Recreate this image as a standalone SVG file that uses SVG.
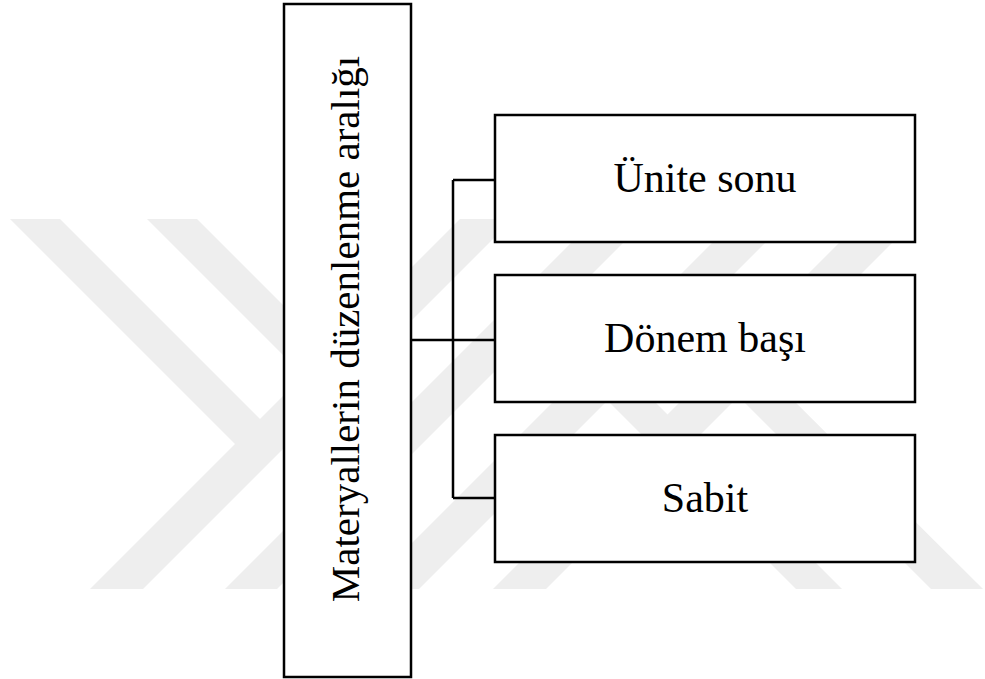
<svg xmlns="http://www.w3.org/2000/svg" width="985" height="679" viewBox="0 0 985 679">
<style>
.wm{fill:#eeeeee;stroke:none}
.box{fill:#ffffff;stroke:#000000;stroke-width:2.5}
.conn{fill:none;stroke:#000000;stroke-width:2.5}
.lbl{font-family:"Liberation Serif","Times New Roman",serif;font-size:42px;fill:#000000;text-anchor:middle}
</style>
<rect x="0" y="0" width="985" height="679" fill="#ffffff"/>
<g id="watermark">
<polygon class="wm" points="10,219 60,219 273.5,432.5 248.5,457.5"/>
<polygon class="wm" points="147,219 197,219 409,431 384,456"/>
<polygon class="wm" points="460,219 513,219 143,589 90,589"/>
<polygon class="wm" points="595,219 647,219 277,589 225,589"/>
<polygon class="wm" points="736,219 789,219 419,589 366,589"/>
<polygon class="wm" points="863,219 916,219 546,589 493,589"/>
<polygon class="wm" points="581,374 630,377 842,589 796,589"/>
<polygon class="wm" points="712,370 764,371 983,589 931,589"/>
</g>
<g id="connectors">
<path class="conn" d="M411,340 H495 M453,180 V498 M453,180 H495 M453,498 H495"/>
</g>
<g id="node-main">
<rect class="box" x="284" y="4" width="127" height="673"/>
<text class="lbl" style="font-size:41px" transform="translate(359,329) rotate(-90)">Materyallerin düzenlenme aralığı</text>
</g>
<g id="node-unite">
<rect class="box" x="495" y="115" width="420" height="127"/>
<text class="lbl" x="705" y="192">Ünite sonu</text>
</g>
<g id="node-donem">
<rect class="box" x="495" y="275" width="420" height="127"/>
<text class="lbl" x="705" y="352">Dönem başı</text>
</g>
<g id="node-sabit">
<rect class="box" x="495" y="435" width="420" height="127"/>
<text class="lbl" x="705" y="512">Sabit</text>
</g>
</svg>
